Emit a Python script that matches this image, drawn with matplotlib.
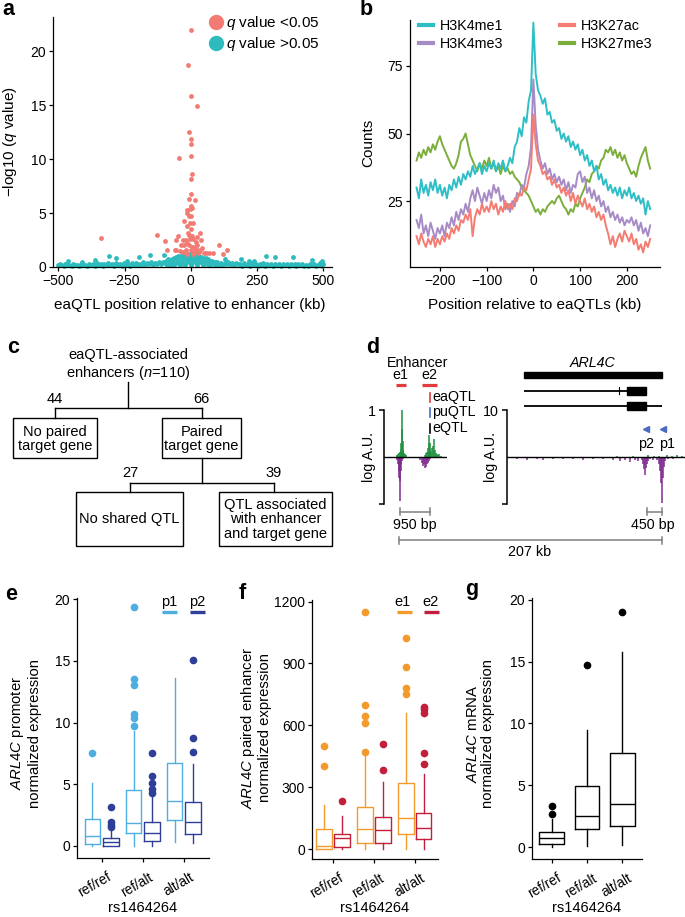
import numpy as np
import matplotlib
matplotlib.use("Agg")
import matplotlib.pyplot as plt
from matplotlib.lines import Line2D
from matplotlib.patches import Rectangle
import matplotlib.transforms as mtransforms

plt.rcParams['font.family'] = ['Liberation Sans', 'DejaVu Sans']
plt.rcParams['mathtext.fontset'] = 'custom'
plt.rcParams['mathtext.rm'] = 'Liberation Sans'
plt.rcParams['mathtext.it'] = 'Liberation Sans:italic'
plt.rcParams['mathtext.bf'] = 'Liberation Sans:bold'
plt.rcParams['axes.linewidth'] = 0.9
plt.rcParams['xtick.major.width'] = 0.9
plt.rcParams['ytick.major.width'] = 0.9
plt.rcParams['xtick.major.size'] = 3
plt.rcParams['ytick.major.size'] = 3
plt.rcParams['xtick.major.pad'] = 2
plt.rcParams['ytick.major.pad'] = 2

# ---------------- data ----------------
# panel a: eaQTL scatter
red_x = [2, -10, 0, 23, -6, 0, 2, 0, -44, 4, 0, 0, -5, 15, 2, -13, -3, 6, -16, -5,
         2, -25, -3, 9, -13, 0, -10, 34, 25, -48, -337, -126, -4, 10, -54, -96, -31, -13, 19, 38,
         -38, -25, -6, 6, 25, 44, 107, 138, -88, -54, -19, 0, 16, 35, 57, 69, 82, 123, -31, -13,
         9, 28, -19, -8, 5, 12, -20, -40, 20, 50, -60, 30]
red_y = [22.0, 18.7, 15.9, 14.9, 12.5, 11.9, 11.4, 10.3, 10.1, 8.6, 8.2, 6.8, 6.3, 6.2, 5.7, 5.3, 5.4, 5.5, 5.0, 4.75,
         4.7, 4.3, 4.1, 4.1, 3.8, 3.5, 3.2, 3.15, 2.8, 2.85, 2.7, 3.0, 2.6, 2.6, 2.5, 2.4, 2.5, 2.2, 2.3, 2.5,
         2.0, 2.0, 2.0, 1.85, 2.0, 1.75, 2.0, 1.55, 1.55, 1.55, 1.6, 1.55, 1.45, 1.55, 1.3, 1.3, 1.3, 1.2, 1.35, 1.2,
         1.2, 1.3, 2.5, 3.0, 2.9, 1.9, 1.4, 1.5, 1.7, 1.3, 1.6, 1.4]

teal_left_x = [-500, -495, -488, -480, -473, -466, -458, -450, -443, -436, -428, -421, -414, -406, -399, -392, -384, -377, -370, -362,
               -355, -348, -340, -333, -326, -318, -311, -304, -296, -289, -282, -274, -267, -260, -252, -245, -238, -230, -223, -216,
               -208, -201, -194, -186, -179, -172, -164, -157, -150, -142, -135, -128, -120, -113, -106, -98]
teal_left_y = [0.15, 0.25, 0.2, 0.12, 0.3, 0.15, 0.2, 0.12, 0.28, 0.15, 0.22, 0.12, 0.3, 0.15, 0.2, 0.12, 0.3, 0.18, 0.25, 0.12,
               0.35, 0.15, 0.25, 0.12, 0.3, 0.2, 0.4, 0.15, 0.3, 0.12, 0.35, 0.2, 0.3, 0.12, 0.4, 0.2, 0.3, 0.12, 0.35, 0.22,
               0.4, 0.15, 0.3, 0.2, 0.45, 0.18, 0.35, 0.25, 0.45, 0.2, 0.4, 0.3, 0.5, 0.25, 0.45, 0.35]
teal_mid_x = [-95, -90, -85, -80, -76, -72, -68, -64, -60, -56, -52, -48, -44, -40, -37, -34, -30, -27, -24, -21,
              -18, -15, -12, -9, -6, -3, 0, 0, 0, 3, 6, 9, 12, 15, 18, 21, 24, 27, 30, 34,
              37, 40, 44, 48, 52, 56, 60, 64, 68, 72, 76, 80, 85, 90, 95, 100,
              -88, -66, -42, -20, 2, 22, 46, 70, 92]
teal_mid_y = [0.6, 0.3, 0.7, 0.5, 0.2, 0.75, 0.45, 0.85, 0.3, 0.9, 0.6, 1.0, 0.4, 0.8, 1.05, 0.55, 1.1, 0.7, 0.3, 1.15,
              0.85, 0.5, 1.2, 0.95, 0.65, 1.25, 1.0, 0.6, 0.3, 1.2, 0.9, 0.55, 1.15, 0.8, 0.4, 1.1, 0.7, 1.0, 0.5, 0.95,
              0.65, 0.9, 0.4, 0.85, 0.55, 0.8, 0.3, 0.7, 0.45, 0.6, 0.25, 0.55, 0.35, 0.5, 0.3, 0.45,
              0.15, 0.15, 0.15, 0.15, 0.15, 0.15, 0.15, 0.15, 0.15]
teal_right_x = [106, 113, 120, 128, 135, 142, 150, 157, 164, 172, 179, 186, 194, 201, 208, 216, 223, 230, 238, 245,
                252, 260, 267, 274, 282, 289, 296, 304, 311, 318, 326, 333, 340, 348, 355, 362, 370, 377, 384, 392,
                399, 406, 414, 421, 428, 436, 443, 450, 458, 466, 473, 480, 488, 495, 500]
teal_right_y = [0.2, 0.4, 0.15, 0.35, 0.25, 0.45, 0.2, 0.35, 0.15, 0.4, 0.25, 0.3, 0.12, 0.35, 0.2, 0.3, 0.12, 0.35, 0.15, 0.25,
                0.12, 0.3, 0.18, 0.35, 0.12, 0.25, 0.15, 0.3, 0.12, 0.28, 0.15, 0.3, 0.12, 0.25, 0.15, 0.3, 0.12, 0.25, 0.18, 0.3,
                0.12, 0.25, 0.15, 0.3, 0.12, 0.22, 0.12, 0.25, 0.15, 0.3, 0.12, 0.2, 0.35, 0.12, 0.25]
teal_high_x = [-465, -361, -308, -283, -195, -155, -100, 189, 283, 317, 384, 459, 497, 130, 220, 240, -240, -410]
teal_high_y = [0.52, 0.68, 1.05, 0.83, 0.9, 1.1, 1.08, 0.74, 1.0, 0.93, 0.9, 0.68, 0.52, 0.75, 0.6, 0.55, 0.6, 0.45]

# panel b: histone profiles (positions in kb)
pos_b = list(range(-250, 251, 5))
h3k4me1 = [30, 26, 33, 28, 31, 27, 32, 29, 33, 28,
           31, 27, 30, 26, 31, 29, 33, 30, 34, 31,
           35, 33, 36, 34, 38, 35, 37, 39, 35, 38,
           36, 39, 37, 40, 36, 39, 37, 40, 36, 38,
           41, 39, 45, 47, 52, 49, 56, 54, 62, 66,
           91,
           72, 66, 64, 61, 63, 57, 58, 54, 55, 51,
           52, 48, 50, 47, 49, 45, 47, 44, 46, 42,
           44, 40, 42, 38, 40, 36, 38, 33, 35, 31,
           33, 29, 31, 28, 30, 27, 30, 26, 29, 27,
           30, 26, 28, 25, 27, 24, 26, 20, 25, 22]
h3k27ac = [12, 9, 13, 10, 8, 11, 9, 12, 8, 11,
           9, 12, 10, 13, 11, 15, 13, 16, 14, 18,
           17, 20, 18, 22, 12, 19, 22, 20, 24, 21,
           23, 21, 25, 22, 24, 20, 23, 21, 25, 22,
           24, 22, 26, 25, 28, 27, 30, 29, 33, 37,
           57,
           46, 40, 38, 35, 36, 33, 34, 31, 33, 30,
           31, 28, 30, 27, 29, 25, 28, 24, 27, 25,
           23, 26, 22, 24, 21, 23, 19, 21, 18, 20,
           16, 13, 9, 12, 8, 11, 13, 10, 14, 12,
           10, 13, 9, 11, 7, 9, 6, 10, 8, 11]
h3k4me3 = [18, 15, 20, 13, 16, 12, 17, 14, 11, 15,
           13, 16, 12, 17, 15, 19, 16, 21, 18, 22,
           20, 24, 21, 26, 29, 25, 30, 27, 24, 28,
           25, 29, 26, 31, 28, 30, 25, 27, 22, 24,
           21, 25, 23, 28, 27, 31, 30, 35, 38, 45,
           70,
           53, 44, 40, 37, 39, 35, 37, 33, 35, 32,
           34, 31, 33, 29, 32, 28, 31, 30, 35, 36,
           32, 34, 28, 30, 26, 29, 25, 27, 23, 25,
           21, 23, 19, 21, 18, 20, 17, 19, 16, 18,
           17, 19, 16, 18, 14, 17, 13, 15, 12, 16]
h3k27me3 = [40, 43, 41, 44, 42, 45, 43, 46, 44, 47,
            49, 46, 44, 42, 40, 38, 37, 39, 42, 47,
            48, 50, 46, 42, 40, 38, 36, 39, 37, 40,
            38, 41, 37, 39, 36, 38, 35, 38, 36, 37,
            35, 36, 34, 33, 32, 30, 29, 28, 27, 25,
            23,
            21, 22, 20, 22, 21, 23, 24, 25, 24, 26,
            27, 25, 23, 22, 20, 22, 21, 24, 23, 26,
            28, 30, 33, 32, 35, 36, 38, 37, 40, 41,
            44, 43, 45, 42, 44, 41, 43, 40, 42, 39,
            37, 35, 36, 34, 38, 41, 43, 45, 40, 37]

# panel c: counts
n_total, n_no_pair, n_pair, n_no_shared, n_shared = 110, 44, 66, 27, 39

# panel d: signal tracks (bp, log A.U.)
enh_plus_pos = [420, 450, 480, 510, 530, 550, 565, 575, 590, 610, 640, 670, 700,
                1280, 1320, 1350, 1380, 1410, 1430, 1445, 1460, 1490, 1520, 1550, 1580, 1600, 1630, 1660, 1700, 1750, 1800]
enh_plus_val = [0.04, 0.06, 0.1, 0.12, 0.15, 0.3, 0.6, 1.0, 0.35, 0.15, 0.1, 0.06, 0.04,
                0.05, 0.1, 0.12, 0.2, 0.3, 0.47, 0.3, 0.15, 0.12, 0.2, 0.25, 0.38, 0.15, 0.1, 0.06, 0.04, 0.06, 0.03]
enh_minus_pos = [400, 430, 460, 480, 500, 515, 530, 550, 580, 610,
                 1150, 1200, 1240, 1270, 1300, 1330, 1360, 1390, 1420, 1450]
enh_minus_val = [-0.05, -0.15, -0.3, -0.45, -0.93, -0.5, -0.3, -0.15, -0.08, -0.04,
                 -0.05, -0.12, -0.18, -0.15, -0.23, -0.2, -0.15, -0.12, -0.08, -0.04]
prom_minus_pos = [300, 600, 900, 1100, 1400, 1700, 2000, 2300, 2600, 2900, 3200, 3400, 3550, 3700, 3850, 3950, 4050, 4100,
                  4130, 4160, 4190, 4220, 4250, 4300, 4400, 4500, 4560, 4590, 4620, 4650, 4680, 4710, 4750, 4850, 5000, 5200]
prom_minus_val = [-0.3, -0.5, -0.3, -0.6, -0.3, -0.4, -0.3, -0.5, -0.4, -0.3, -0.5, -0.7, -0.5, -0.9, -0.6, -0.8, -0.5, -1.5,
                  -2.5, -3.8, -2.2, -1.4, -0.8, -0.4, -0.5, -0.6, -1.5, -3.0, -5.5, -9.7, -4.5, -2.0, -0.8, -0.4, -0.3, -0.2]
prom_plus_pos = [3300, 3800, 4250, 4420, 4580, 4800, 4950, 5100, 5250]
prom_plus_val = [0.3, 0.3, 0.4, 0.3, 0.3, 0.5, 0.3, 0.4, 0.3]
promoter_pos = [4190, 4690]
promoter_names = ['p2', 'p1']
gene_start, gene_end = 528, 4650
tx1_end, tx2_end = 4180, 4650
cds_start, cds_end = 3600, 4180
tx1_mark = 3378

# panels e-g: box statistics [whislo, q1, median, q3, whishi]
genotypes = ['ref/ref', 'ref/alt', 'alt/alt']
p1_stats = [[0.0, 0.14, 0.81, 2.19, 5.08], [0.0, 1.05, 1.9, 4.5, 9.3], [0.32, 2.08, 3.62, 6.76, 13.65]]
p1_fliers = [[7.5], [9.73, 10.35, 10.7, 13.05, 13.5, 19.35], []]
p2_stats = [[0.0, 0.02, 0.3, 0.62, 1.3], [0.0, 0.43, 1.03, 1.97, 3.95], [0.27, 0.95, 1.92, 3.6, 6.65]]
p2_fliers = [[1.5, 1.7, 1.95, 3.15], [4.3, 4.6, 5.08, 5.7, 7.5], [7.65, 8.78, 15.1]]
e1_stats = [[0, 2, 13, 97, 213], [0, 31, 99, 204, 451], [0, 71, 150, 319, 661]]
e1_fliers = [[404, 501], [471, 610, 645, 701, 1152], [750, 780, 885, 1025]]
e2_stats = [[0, 10, 52, 73, 162], [0, 31, 92, 155, 325], [0, 47, 102, 176, 362]]
e2_fliers = [[235], [385, 511], [411, 467, 661, 677, 690]]
mrna_stats = [[0.0, 0.24, 0.75, 1.2, 2.26], [0.1, 1.45, 2.5, 4.95, 9.46], [0.13, 1.7, 3.5, 7.58, 15.8]]
mrna_fliers = [[2.7, 3.3], [14.75], [19.0]]

# ---------------- colours ----------------
C_RED_A, C_TEAL_A = '#F27B73', '#2DBBBE'
C_ME1, C_AC, C_ME3, C_K27 = '#2EBFC6', '#F47C72', '#A68BC6', '#7BAE3B'
C_P1, C_P2 = '#4DAEDF', '#2F3E96'
C_E1, C_E2 = '#F39A2D', '#C11F3B'
C_DG, C_DP, C_DR, C_DB = '#1F9040', '#802C90', '#E23B3B', '#4A6CC0'
C_GRAY = '#808080'

FS_TICK = 10
FS_LAB = 11

W, H = 685, 917
fig = plt.figure(figsize=(W / 100, H / 100), dpi=100)


def px_axes(x0, y0, x1, y1):
    return fig.add_axes([x0 / W, 1 - y1 / H, (x1 - x0) / W, (y1 - y0) / H])


def clean(ax):
    for s in ('top', 'right'):
        ax.spines[s].set_visible(False)
    ax.patch.set_visible(False)


# ---------------- panel a ----------------
axa = px_axes(53, 17, 332, 267)
clean(axa)
teal_x = teal_left_x + teal_mid_x + teal_right_x + teal_high_x
teal_y = teal_left_y + teal_mid_y + teal_right_y + teal_high_y
axa.scatter(teal_x, teal_y, s=12, color=C_TEAL_A, linewidths=0, clip_on=False, zorder=2)
axa.scatter(red_x, red_y, s=12, color=C_RED_A, linewidths=0, clip_on=False, zorder=3)
axa.set_xlim(-520, 533)
axa.set_ylim(0, 23.2)
axa.set_xticks([-500, -250, 0, 250, 500])
axa.set_yticks([0, 5, 10, 15, 20])
axa.tick_params(labelsize=FS_TICK)
axa.set_xlabel('eaQTL position relative to enhancer (kb)', fontsize=FS_LAB, va='center')
axa.xaxis.set_label_coords(0.49, -0.152)
axa.set_ylabel('\u2212log10 ($q$ value)', fontsize=FS_LAB, va='center')
axa.yaxis.set_label_coords(-0.154, 0.5)
hl = [Line2D([], [], marker='o', ls='', color=C_RED_A, markersize=10, label='$q$ value <0.05'),
      Line2D([], [], marker='o', ls='', color=C_TEAL_A, markersize=10, label='$q$ value >0.05')]
axa.legend(handles=hl, loc='upper right', bbox_to_anchor=(319 / W, 1 - 14 / H), bbox_transform=fig.transFigure,
           frameon=False, fontsize=11, handletextpad=0.0, labelspacing=0.2, borderpad=0, borderaxespad=0,
           handlelength=1.2)

# ---------------- panel b ----------------
axb = px_axes(410, 20, 660, 267)
clean(axb)
axb.plot(pos_b, h3k27me3, color=C_K27, lw=1.4)
axb.plot(pos_b, h3k4me3, color=C_ME3, lw=1.4)
axb.plot(pos_b, h3k27ac, color=C_AC, lw=1.4)
axb.plot(pos_b, h3k4me1, color=C_ME1, lw=1.4)
axb.set_xlim(-264, 271)
axb.set_ylim(0.6, 92)
axb.set_xticks([-200, -100, 0, 100, 200])
axb.set_yticks([25, 50, 75])
axb.tick_params(labelsize=FS_TICK)
axb.set_xlabel('Position relative to eaQTLs (kb)', fontsize=FS_LAB, va='center')
axb.xaxis.set_label_coords(0.5, -0.154)
axb.set_ylabel('Counts', fontsize=FS_LAB, va='center')
axb.yaxis.set_label_coords(-0.168, 0.502)
hb = [Line2D([], [], color=C_ME1, lw=3, label='H3K4me1'),
      Line2D([], [], color=C_ME3, lw=3, label='H3K4me3'),
      Line2D([], [], color=C_AC, lw=3, label='H3K27ac'),
      Line2D([], [], color=C_K27, lw=3, label='H3K27me3')]
axb.legend(handles=hb, ncol=2, loc='upper left', bbox_to_anchor=(419 / W, 1 - 19 / H), bbox_transform=fig.transFigure,
           frameon=False, fontsize=10.3, handlelength=0.95, handletextpad=0.5, labelspacing=0.3,
           columnspacing=4.0, borderpad=0, borderaxespad=0)

# ---------------- overlay (pixel coordinates) ----------------
ov = fig.add_axes([0, 0, 1, 1], zorder=5)
ov.set_xlim(0, W)
ov.set_ylim(H, 0)
ov.axis('off')
ov.patch.set_visible(False)

for lab, x, y in [('a', 2, 15), ('b', 360, 15), ('c', 7, 353), ('d', 366, 353),
                  ('e', 5, 600), ('f', 239, 599), ('g', 465, 595)]:
    ov.text(x, y, lab, fontsize=15.5, fontweight='bold', ha='left', va='baseline')

# ---------------- panel c (flowchart) ----------------
lw_c = 1.0
FS_C = 10.5
ov.text(128, 365, 'eaQTL-associated\nenhancers ($n$=%d)' % n_total, ha='center', va='center', fontsize=FS_C,
        linespacing=1.1)
ov.plot([128.3, 128.3], [382, 408.3], color='k', lw=lw_c)
ov.plot([55, 201.7], [408.3, 408.3], color='k', lw=lw_c)
ov.plot([55, 55], [408.3, 418.3], color='k', lw=lw_c)
ov.plot([201.7, 201.7], [408.3, 418.3], color='k', lw=lw_c)
ov.text(55, 399, str(n_no_pair), ha='center', va='center', fontsize=FS_C)
ov.text(201.7, 399, str(n_pair), ha='center', va='center', fontsize=FS_C)
for (x0, y0, x1, y1, t) in [(13.3, 418.3, 96.7, 458.3, 'No paired\ntarget gene'),
                            (162.3, 418.3, 241, 458.3, 'Paired\ntarget gene'),
                            (76, 491.7, 183.3, 546, 'No shared QTL'),
                            (219, 491.7, 331.7, 546, 'QTL associated\nwith enhancer\nand target gene')]:
    ov.add_patch(Rectangle((x0, y0), x1 - x0, y1 - y0, fill=False, ec='k', lw=lw_c))
    ov.text((x0 + x1) / 2, (y0 + y1) / 2 + 0.5, t, ha='center', va='center', fontsize=FS_C, linespacing=1.05)
ov.plot([201.7, 201.7], [458.3, 482.7], color='k', lw=lw_c)
ov.plot([130, 274], [482.7, 482.7], color='k', lw=lw_c)
ov.plot([130, 130], [482.7, 491.7], color='k', lw=lw_c)
ov.plot([274, 274], [482.7, 491.7], color='k', lw=lw_c)
ov.text(130, 472.7, str(n_no_shared), ha='center', va='center', fontsize=FS_C)
ov.text(274, 472.7, str(n_shared), ha='center', va='center', fontsize=FS_C)

# ---------------- panel d ----------------
fs_d = 10.3
axd1 = px_axes(384, 410.3, 447.3, 504.3)
axd1.set_xlim(0, 2000)
axd1.set_ylim(-1, 1)
axd1.vlines(enh_plus_pos, 0, enh_plus_val, color=C_DG, lw=1.1)
axd1.vlines(enh_minus_pos, 0, enh_minus_val, color=C_DP, lw=1.1)
axd1.axhline(0, color='k', lw=1.0)
for s in ('top', 'right', 'bottom'):
    axd1.spines[s].set_visible(False)
axd1.spines['left'].set_linewidth(1.1)
axd1.set_xticks([])
axd1.set_yticks([-1, 1])
axd1.set_yticklabels(['', '1'], fontsize=fs_d)
axd1.tick_params(axis='y', length=3.5, width=1.1)
axd1.patch.set_visible(False)

axd2 = px_axes(506.7, 410.3, 685, 504.3)
axd2.set_xlim(0, 5350)
axd2.set_ylim(-10, 10)
axd2.vlines(prom_plus_pos, 0, prom_plus_val, color=C_DG, lw=1.1)
axd2.vlines(prom_minus_pos, 0, prom_minus_val, color=C_DP, lw=1.1)
axd2.axhline(0, color='k', lw=1.0)
for s in ('top', 'right', 'bottom'):
    axd2.spines[s].set_visible(False)
axd2.spines['left'].set_linewidth(1.1)
axd2.set_xticks([])
axd2.set_yticks([-10, 10])
axd2.set_yticklabels(['', '10'], fontsize=fs_d)
axd2.tick_params(axis='y', length=3.5, width=1.1)
axd2.patch.set_visible(False)
# gene model of ARL4C
axd2.add_patch(Rectangle((gene_start, 16.8), gene_end - gene_start, 1.45, color='k', clip_on=False))
axd2.plot([gene_start, tx1_end], [14.2, 14.2], color='k', lw=1.3, clip_on=False, solid_capstyle='butt')
axd2.plot([tx1_mark, tx1_mark], [13.5, 14.9], color='k', lw=0.8, clip_on=False)
axd2.add_patch(Rectangle((cds_start, 13.35), cds_end - cds_start, 1.7, color='k', clip_on=False))
axd2.plot([gene_start, tx2_end], [10.9, 10.9], color='k', lw=1.3, clip_on=False, solid_capstyle='butt')
axd2.add_patch(Rectangle((cds_start, 10.05), cds_end - cds_start, 1.7, color='k', clip_on=False))
axd2.plot(promoter_pos, [6.0, 6.0], ls='', marker='<', color=C_DB, ms=4.5, clip_on=False)
for xp, nm in zip(promoter_pos, promoter_names):
    axd2.text(xp + (130 if nm == 'p1' else -10), 2.9, nm, ha='center', va='center', fontsize=fs_d)
ov.text(593, 362.7, 'ARL4C', ha='center', va='center', fontsize=fs_d, style='italic')

ov.text(417.5, 362.7, 'Enhancer', ha='center', va='center', fontsize=fs_d)
ov.text(400.5, 375, 'e1', ha='center', va='center', fontsize=fs_d)
ov.text(429.5, 375, 'e2', ha='center', va='center', fontsize=fs_d)
ov.plot([396, 405.7], [384.5, 384.5], color=C_DR, lw=2.3, solid_capstyle='butt')
ov.plot([421.7, 437.3], [384.5, 384.5], color=C_DR, lw=2.3, solid_capstyle='butt')
for (yc, col, t) in [(397.3, C_DR, 'eaQTL'), (412.3, C_DB, 'puQTL'), (428.3, 'k', 'eQTL')]:
    ov.plot([430.3, 430.3], [yc - 4.3, yc + 4.3], color=col, lw=1.2)
    ov.text(432.5, yc, t, ha='left', va='center', fontsize=fs_d)
ov.text(369.3, 457.3, 'log A.U.', rotation=90, ha='center', va='center', fontsize=fs_d)
ov.text(490.7, 457.3, 'log A.U.', rotation=90, ha='center', va='center', fontsize=fs_d)


def bracket(x0, x1, y, h=3.5):
    ov.plot([x0, x1], [y, y], color=C_GRAY, lw=1.1)
    ov.plot([x0, x0], [y - h, y + h], color=C_GRAY, lw=1.1)
    ov.plot([x1, x1], [y - h, y + h], color=C_GRAY, lw=1.1)


bracket(400, 430, 511.7)
ov.text(415, 525.5, '950 bp', ha='center', va='center', fontsize=fs_d)
bracket(647.3, 661.7, 511.7)
ov.text(652.7, 525.5, '450 bp', ha='center', va='center', fontsize=fs_d)
bracket(399.3, 661.7, 540)
ov.text(530, 552.5, '207 kb', ha='center', va='center', fontsize=fs_d)


# ---------------- panels e-g ----------------
def draw_boxes(ax, positions, stats, fliers, color, width, lw=1.0, ms=4.5):
    bst = [dict(whislo=s[0], q1=s[1], med=s[2], q3=s[3], whishi=s[4], fliers=f) for s, f in zip(stats, fliers)]
    ax.bxp(bst, positions=positions, widths=width, showcaps=False, manage_ticks=False,
           boxprops=dict(color=color, lw=lw), whiskerprops=dict(color=color, lw=lw),
           medianprops=dict(color=color, lw=lw, solid_capstyle='butt'),
           flierprops=dict(marker='o', mfc=color, mec=color, ms=ms, ls='none'))


def style_box_axes(ax, ylim, yticks, xlim, ylabel, ylab_xy, xlab_y):
    clean(ax)
    ax.set_xlim(*xlim)
    ax.set_ylim(*ylim)
    ax.set_yticks(yticks)
    ax.set_xticks([0, 1, 2])
    ax.set_xticklabels(genotypes, rotation=30, ha='right', va='top', rotation_mode='anchor', fontsize=9.8)
    off = mtransforms.ScaledTranslation(5 / 100, -5 / 100, fig.dpi_scale_trans)
    for lab in ax.get_xticklabels():
        lab.set_transform(lab.get_transform() + off)
    ax.tick_params(axis='y', labelsize=10)
    ax.set_xlabel('rs1464264', fontsize=10.5, va='center')
    ax.xaxis.set_label_coords(0.5, xlab_y)
    ax.set_ylabel(ylabel, fontsize=10.7, va='center', linespacing=1.1)
    ax.yaxis.set_label_coords(*ylab_xy)


grp = np.arange(3)
axe = px_axes(77, 598, 209, 858)
draw_boxes(axe, grp - 0.225, p1_stats, p1_fliers, C_P1, 0.38)
draw_boxes(axe, grp + 0.225, p2_stats, p2_fliers, C_P2, 0.38)
style_box_axes(axe, (-0.973, 20.1), [0, 5, 10, 15, 20], (-0.6, 2.61),
               '$\\mathit{ARL4C}$ promoter\nnormalized expression', (-0.39, 0.48), (858 - 907.5) / 260)

axf = px_axes(312, 600, 438, 859)
draw_boxes(axf, grp - 0.217, e1_stats, e1_fliers, C_E1, 0.387)
draw_boxes(axf, grp + 0.217, e2_stats, e2_fliers, C_E2, 0.387)
style_box_axes(axf, (-48.5, 1208), [0, 300, 600, 900, 1200], (-0.52, 2.57),
               '$\\mathit{ARL4C}$ paired enhancer\nnormalized expression', (-0.45, 0.506), (859 - 907.5) / 259)

axg = px_axes(532, 598, 642, 859)
draw_boxes(axg, grp, mrna_stats, mrna_fliers, 'k', 0.714)
style_box_axes(axg, (-0.97, 20.16), [0, 5, 10, 15, 20], (-0.571, 2.571),
               '$\\mathit{ARL4C}$ mRNA\nnormalized expression', (-0.47, 0.48), (859 - 907.5) / 261)

# legends of e and f
for (xc, x0, x1, col, t) in [(169, 162, 177, C_P1, 'p1'), (197, 190, 205, C_P2, 'p2'),
                             (403, 397, 412, C_E1, 'e1'), (431, 424, 439, C_E2, 'e2')]:
    ov.text(xc, 602, t, ha='center', va='center', fontsize=10.5)
    ov.plot([x0, x1], [612, 612], color=col, lw=2.4, solid_capstyle='butt')

fig.savefig('out.png', dpi=100)
